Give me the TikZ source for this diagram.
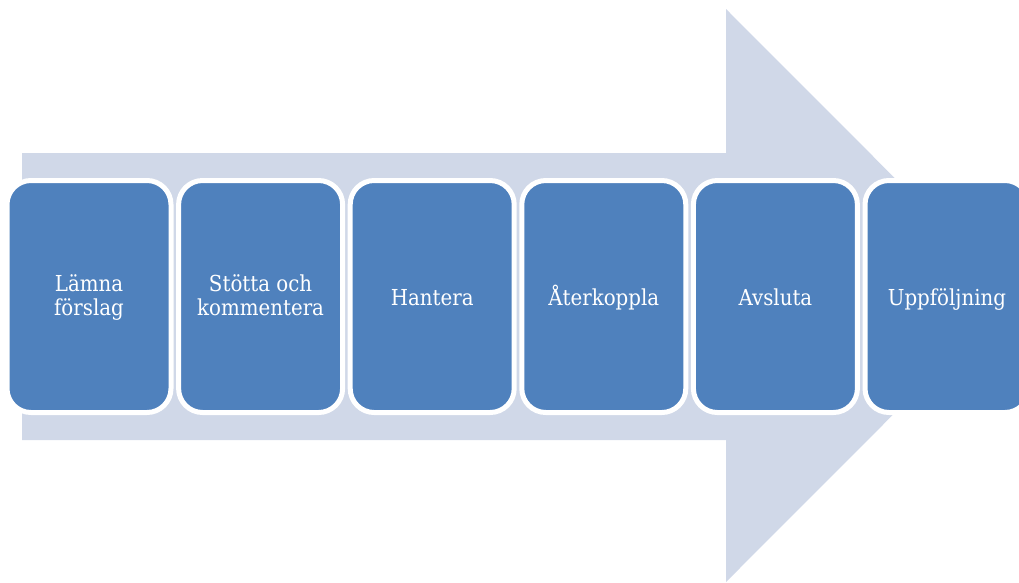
\documentclass[tikz,border=0pt]{standalone}
\usepackage{fontspec}
\setmainfont{DejaVu Serif}[FakeStretch=0.9]
\usepackage{xcolor}
\definecolor{pilgra}{HTML}{D0D8E8}
\definecolor{stegbla}{HTML}{4F81BD}

\begin{document}
\begin{tikzpicture}[
        x=1pt, y=-1pt, % en punkt per pixel, y nedåt
        pil/.style={fill=pilgra, draw=none}, % Stil för den stora pilen
        stegruta/.style={rectangle, rounded corners=24pt, fill=stegbla,
        draw=white, line width=5pt, minimum width=164pt, minimum height=232pt,
        inner sep=0pt}, % Stil för stegen
        stegtext/.style={inner sep=0pt, anchor=base, text=white,
        font=\fontsize{22pt}{24pt}\selectfont}, % Stil för texten
    ]
        \useasboundingbox (0,0) rectangle (1019,582);

        % --- Den stora pilen i bakgrunden ---
        \fill[pil] (22,153) -- (726,153) -- (726,9) -- (1012,295.5)
            -- (726,582) -- (726,440) -- (22,440) -- cycle;

        % --- Stegen, från vänster till höger ---
        \foreach \namn/\text/\dy [count=\i from 0] in {
            forslag/{Lämna\\förslag}/-19.2,
            stotta/{Stötta och\\kommentera}/-19.2,
            hantera/{Hantera}/-8.5,
            aterkoppla/{Återkoppla}/-8.5,
            avsluta/{Avsluta}/-8.5,
            uppfoljning/{Uppföljning}/-8.5}
        {
            \node[stegruta] (\namn) at (89 + 171.6*\i, 296.5) {};
            \node[stegtext] (\namn-text) at ([yshift=\dy pt]\namn.center)
                {\begin{tabular}[b]{@{}c@{}}\text\end{tabular}};
        }

    \end{tikzpicture}
\end{document}
